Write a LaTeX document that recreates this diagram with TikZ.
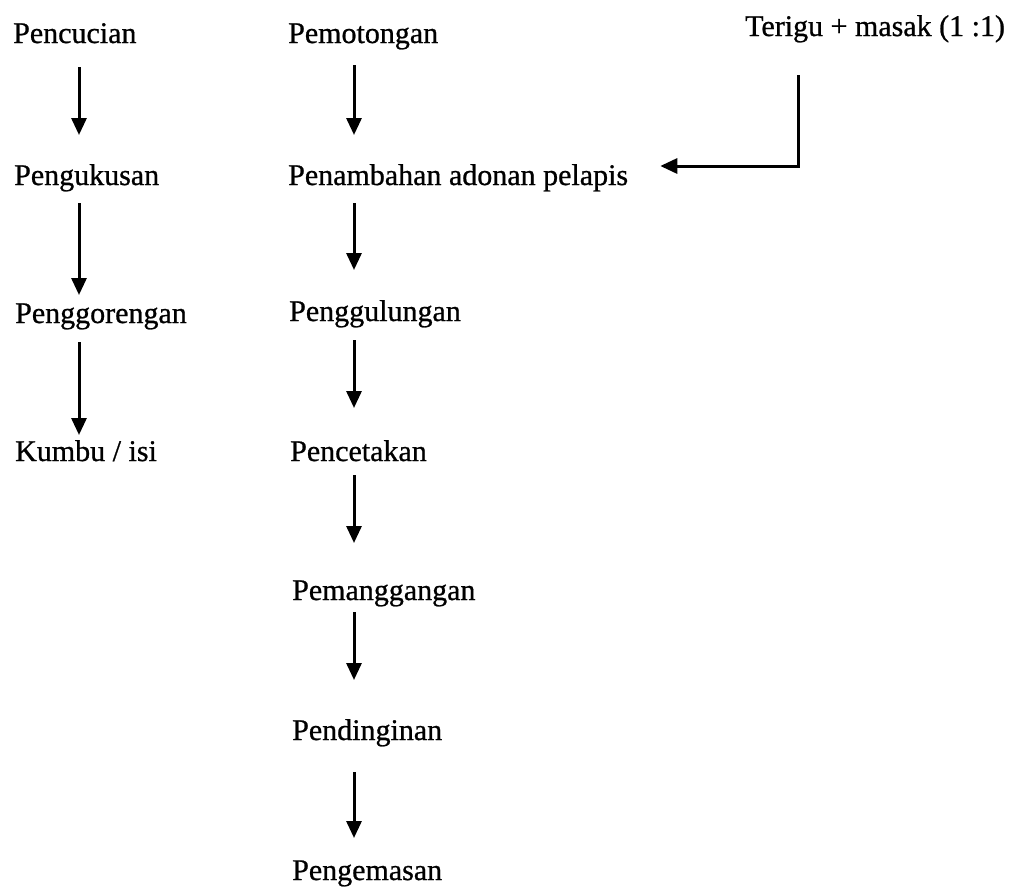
\documentclass[tikz,border=0pt]{standalone}
\usepackage{fontspec}
\setmainfont{Liberation Serif}
\newfontfamily\heavyserif{Liberation Serif}[FakeBold=0.8]
\usetikzlibrary{arrows.meta,calc}
\begin{document}
\begin{tikzpicture}[x=1pt,y=-1pt,
  lbl/.style={anchor=base west,inner sep=0pt,font=\heavyserif\fontsize{30}{36}\selectfont},
  arr/.style={line width=3pt,-{Triangle[width=15pt,length=17pt]}}]
\useasboundingbox[fill=white] (0,0) rectangle (1017,886);
\coordinate (cA) at (79,0);
\coordinate (cB) at (354,0);
\coordinate (cC) at (798,0);
% left column
\node[lbl] (pencucian) at (13,43) {Pencucian};
\node[lbl] (pengukusan) at (14,185) {Pengukusan};
\node[lbl] (penggorengan) at (15,323) {Penggorengan};
\node[lbl] (kumbu) at (15,461) {Kumbu / isi};
% middle column
\node[lbl] (pemotongan) at (288,43) {Pemotongan};
\node[lbl] (penambahan) at (288,185) {Penambahan adonan pelapis};
\node[lbl] (penggulungan) at (289,321) {Penggulungan};
\node[lbl] (pencetakan) at (290,461) {Pencetakan};
\node[lbl] (pemanggangan) at (292,600) {Pemanggangan};
\node[lbl] (pendinginan) at (292,740) {Pendinginan};
\node[lbl] (pengemasan) at (292,880) {Pengemasan};
% right
\node[lbl] (terigu) at (745,36) {Terigu + masak (1 :1)};
% left arrows
\draw[arr] ($(pencucian.base -| cA)+(0,24)$) -- ($(pengukusan.base -| cA)+(0,-50)$);
\draw[arr] ($(pengukusan.base -| cA)+(0,18)$) -- ($(penggorengan.base -| cA)+(0,-28)$);
\draw[arr] ($(penggorengan.base -| cA)+(0,19)$) -- ($(kumbu.base -| cA)+(0,-26)$);
% middle arrows
\draw[arr] ($(pemotongan.base -| cB)+(0,22)$) -- ($(penambahan.base -| cB)+(0,-50)$);
\draw[arr] ($(penambahan.base -| cB)+(0,18)$) -- ($(penggulungan.base -| cB)+(0,-51)$);
\draw[arr] ($(penggulungan.base -| cB)+(0,19)$) -- ($(pencetakan.base -| cB)+(0,-53)$);
\draw[arr] ($(pencetakan.base -| cB)+(0,14)$) -- ($(pemanggangan.base -| cB)+(0,-57)$);
\draw[arr] ($(pemanggangan.base -| cB)+(0,12)$) -- ($(pendinginan.base -| cB)+(0,-60)$);
\draw[arr] ($(pendinginan.base -| cB)+(0,32)$) -- ($(pengemasan.base -| cB)+(0,-42)$);
% side input
\draw[arr] ($(terigu.base -| cC)+(0,39)$) |- ($(penambahan.base east)+(32,-19)$);
\end{tikzpicture}
\end{document}
